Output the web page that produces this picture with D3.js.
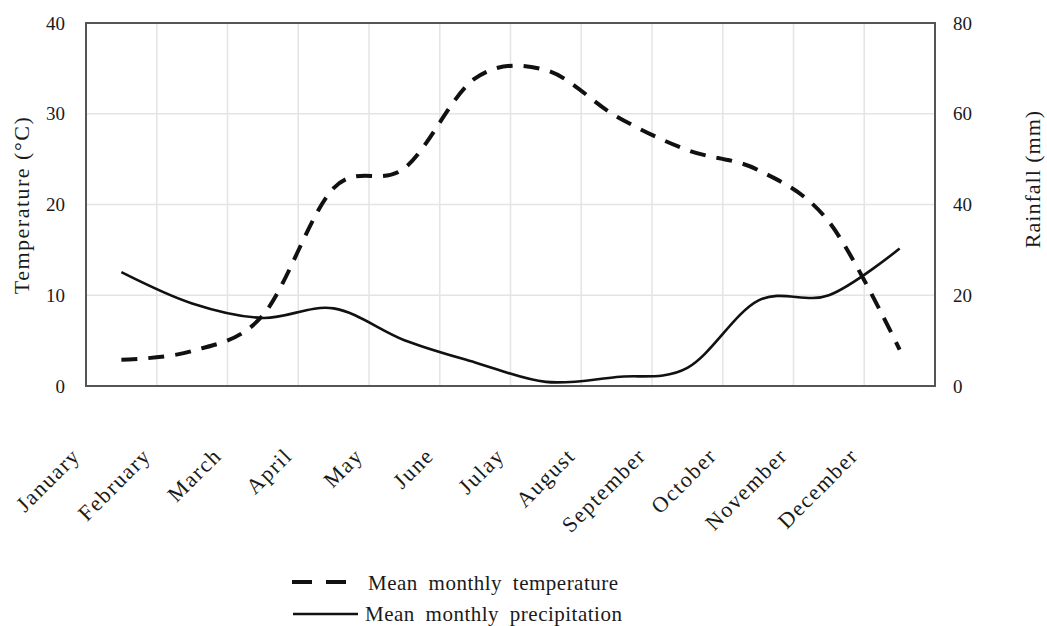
<!DOCTYPE html>
<html>
<head>
<meta charset="utf-8">
<script src="https://cdn.jsdelivr.net/npm/d3@7"></script>
<style>
  body { margin: 0; background: #fff; }
  svg text { font-family: "Liberation Serif", "Times New Roman", serif; fill: #1a1a1a; }
</style>
</head>
<body>
<div id="chart"></div>
<script>
// month labels (the "Julay" typo is in the original figure)
const months = ['January', 'February', 'March', 'April', 'May', 'June', 'Julay',
  'August', 'September', 'October', 'November', 'December'];
// mean monthly temperature, degC (left axis)
const temperature = [2.9, 3.85, 7.8, 21.8, 24.0, 33.9, 34.8, 29.7, 26.0, 23.8, 18.1, 4.0];
// mean monthly precipitation, mm (right axis)
const rainfall = [25.1, 18.2, 15.0, 17.1, 10.1, 5.2, 0.9, 2.0, 4.0, 18.8, 20.0, 30.3];
const tempTicks = [0, 10, 20, 30, 40];
const rainTicks = [0, 20, 40, 60, 80];
const seriesNames = ['Mean monthly temperature', 'Mean monthly precipitation'];

let width = 1047,
  height = 626;
let margin = { top: 23, right: 112, bottom: 240, left: 86 };
let w = width - margin.left - margin.right,
  h = height - margin.top - margin.bottom;

let svg = d3.select('#chart').append('svg')
  .attr('width', width)
  .attr('height', height);

let g = svg.append('g').attr('transform', `translate(${margin.left},${margin.top})`);

let x = d3.scaleBand().domain(months).range([0, w]);
let yT = d3.scaleLinear().domain([0, 40]).range([h, 0]);
let yR = d3.scaleLinear().domain([0, 80]).range([h, 0]);

// grid: horizontal at temp ticks, vertical at band edges
g.append('g').selectAll('line')
  .data(tempTicks.slice(1, -1))
  .enter().append('line')
  .attr('x1', 0).attr('x2', w)
  .attr('y1', d => yT(d)).attr('y2', d => yT(d))
  .attr('stroke', '#e4e4e4').attr('stroke-width', 1.5);

g.append('g').selectAll('line')
  .data(months.slice(1))
  .enter().append('line')
  .attr('x1', d => x(d)).attr('x2', d => x(d))
  .attr('y1', 0).attr('y2', h)
  .attr('stroke', '#e4e4e4').attr('stroke-width', 1.5);

// axes
let leftAxis = g.append('g')
  .call(d3.axisLeft(yT).tickValues(tempTicks).tickSize(0).tickPadding(21));
let rightAxis = g.append('g')
  .attr('transform', `translate(${w},0)`)
  .call(d3.axisRight(yR).tickValues(rainTicks).tickSize(0).tickPadding(18));
let bottomAxis = g.append('g')
  .attr('transform', `translate(0,${h})`)
  .call(d3.axisBottom(x).tickSize(0));

[leftAxis, rightAxis, bottomAxis].forEach(a => {
  a.select('.domain').remove();
  a.selectAll('text').style('font-family', '"Liberation Serif", serif')
    .style('font-size', '19px').attr('fill', '#1a1a1a');
});

// rotated month labels
bottomAxis.selectAll('text')
  .attr('x', 0).attr('y', 0).attr('dy', 0)
  .attr('text-anchor', 'end')
  .style('font-size', '22px')
  .style('letter-spacing', '1.6px')
  .attr('transform', 'translate(-40,71) rotate(-45)');

// plot frame
g.append('rect')
  .attr('x', 0).attr('y', 0).attr('width', w).attr('height', h)
  .attr('fill', 'none').attr('stroke', '#555').attr('stroke-width', 2);

// lines, smoothed like the spreadsheet original
let tempLine = d3.line()
  .x((d, i) => x(months[i]) + x.bandwidth() / 2)
  .y(d => yT(d))
  .curve(d3.curveCardinal.tension(0));
let rainLine = d3.line()
  .x((d, i) => x(months[i]) + x.bandwidth() / 2)
  .y(d => yR(d))
  .curve(d3.curveCardinal.tension(0));

g.append('path').datum(rainfall)
  .attr('d', rainLine)
  .attr('fill', 'none').attr('stroke', '#111').attr('stroke-width', 2.6);

g.append('path').datum(temperature)
  .attr('d', tempLine)
  .attr('fill', 'none').attr('stroke', '#111').attr('stroke-width', 4)
  .attr('stroke-dasharray', '16,11');

// axis titles
svg.append('text')
  .attr('transform', 'translate(29,205) rotate(-90)')
  .attr('text-anchor', 'middle')
  .style('font-size', '22px').style('letter-spacing', '1.5px')
  .text('Temperature (°C)');
svg.append('text')
  .attr('transform', 'translate(1040,179) rotate(-90)')
  .attr('text-anchor', 'middle')
  .style('font-size', '22px').style('letter-spacing', '1px')
  .text('Rainfall (mm)');

// legend
let legend = svg.append('g');
legend.append('line')
  .attr('x1', 292).attr('x2', 346).attr('y1', 582).attr('y2', 582)
  .attr('stroke', '#111').attr('stroke-width', 4).attr('stroke-dasharray', '20,14');
legend.append('line')
  .attr('x1', 293).attr('x2', 358).attr('y1', 614).attr('y2', 614)
  .attr('stroke', '#111').attr('stroke-width', 2.6);
legend.selectAll('text')
  .data(seriesNames)
  .enter().append('text')
  .attr('x', (d, i) => i === 0 ? 368 : 365)
  .attr('y', (d, i) => i === 0 ? 590 : 621)
  .style('font-size', '21px')
  .style('word-spacing', '5px')
  .style('letter-spacing', '0.5px')
  .text(d => d);
</script>
</body>
</html>
